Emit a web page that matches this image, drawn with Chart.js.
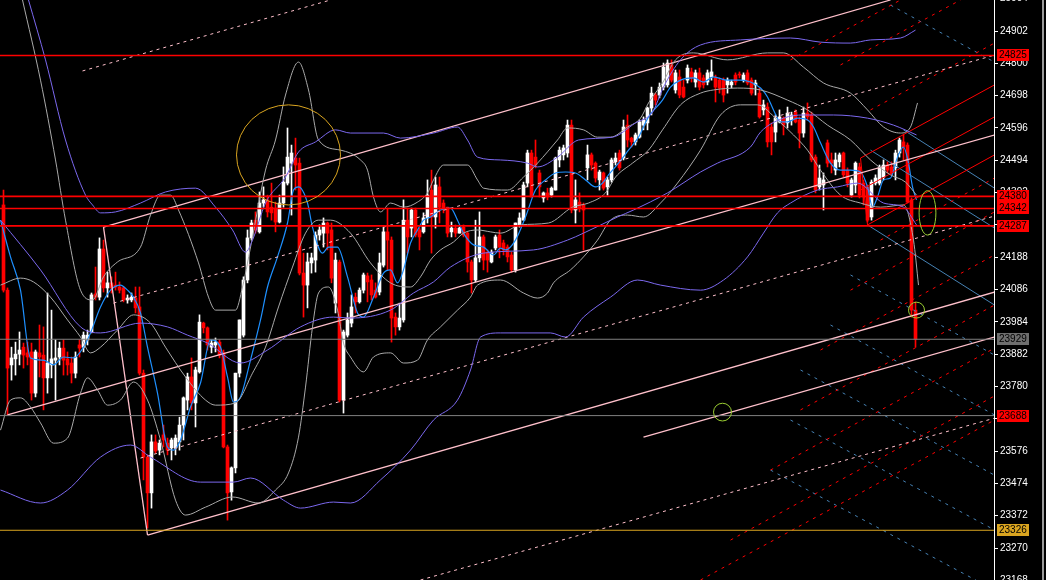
<!DOCTYPE html>
<html>
<head>
<meta charset="utf-8">
<script src="https://cdn.jsdelivr.net/npm/chart.js@4.4.1/dist/chart.umd.min.js"></script>
<style>
  html, body { margin: 0; padding: 0; background: #000; }
  #wrap { position: relative; width: 1046px; height: 580px; }
</style>
</head>
<body>
<div id="wrap"><canvas id="myChart"></canvas></div>
<script>
// candles (one per bar, left to right)
var opens = [24353,24084,23848,23867,23882,23904,23886,23889,23759,23886,
  23879,23807,23848,23863,23873,23901,23867,23854,23822,23911,
  23904,23927,23952,24072,24062,24214,24091,24107,24100,24094,
  24091,24053,24053,24059,24031,23822,23557,23444,23605,23579,
  23627,23601,23586,23586,23605,23658,23737,23810,23728,23826,
  23980,23965,23904,23911,23920,23886,23589,23447,23523,23822,
  23942,24116,24249,24305,24268,24359,24369,24346,24343,24299,
  24359,24422,24485,24501,24485,24138,24100,24170,24179,24258,
  24264,24296,24274,24043,24173,23737,23942,23980,24062,24047,
  24084,24129,24116,24084,24078,24163,24268,24242,23999,23968,
  23990,24305,24280,24337,24274,24268,24312,24400,24315,24410,
  24359,24346,24268,24280,24264,24283,24264,24173,24116,24186,
  24252,24204,24173,24217,24258,24233,24220,24195,24148,24290,
  24305,24422,24517,24504,24454,24375,24391,24384,24400,24495,
  24511,24517,24605,24337,24362,24353,24470,24511,24485,24432,
  24454,24410,24432,24489,24517,24501,24605,24564,24552,24567,
  24605,24612,24659,24700,24700,24725,24732,24795,24716,24757,
  24725,24747,24773,24741,24770,24754,24741,24757,24754,24747,
  24747,24732,24732,24763,24766,24747,24770,24747,24732,24706,
  24653,24662,24599,24583,24615,24627,24612,24621,24646,24621,
  24580,24643,24637,24504,24410,24416,24549,24495,24463,24489,
  24517,24463,24384,24416,24473,24422,24410,24315,24422,24422,
  24441,24479,24473,24470,24517,24552,24542,24369,24021];
var closes = [24084,23838,23870,23882,23895,23879,23873,23759,23889,23873,
  23807,23854,23867,23870,23901,23863,23848,23822,23873,23901,
  23942,23942,24069,24062,24214,24091,24107,24091,24094,24084,
  24053,24059,24062,24028,23822,23557,23444,23605,23576,23601,
  23611,23579,23611,23617,23658,23744,23810,23728,23832,23983,
  23965,23911,23917,23920,23879,23589,23444,23523,23822,23990,
  24116,24249,24296,24274,24359,24369,24331,24328,24299,24359,
  24425,24504,24517,24479,24138,24100,24173,24186,24258,24274,
  24296,24264,24122,24179,23737,23952,23990,24031,24047,24084,
  24132,24110,24069,24062,24170,24268,24242,23996,23968,23996,
  24305,24252,24337,24258,24252,24312,24384,24315,24416,24346,
  24343,24264,24280,24264,24280,24258,24173,24116,24186,24252,
  24179,24179,24204,24252,24220,24211,24189,24148,24296,24312,
  24416,24517,24378,24479,24410,24391,24378,24406,24501,24526,
  24533,24605,24337,24369,24343,24337,24511,24479,24438,24457,
  24406,24432,24495,24501,24470,24599,24558,24552,24574,24615,
  24621,24659,24706,24684,24725,24788,24801,24747,24770,24700,
  24694,24785,24754,24770,24725,24732,24770,24773,24725,24722,
  24700,24747,24741,24741,24763,24763,24738,24706,24738,24631,
  24669,24552,24552,24627,24631,24605,24643,24637,24615,24580,
  24643,24631,24495,24400,24438,24432,24485,24485,24495,24511,
  24448,24422,24432,24485,24384,24378,24305,24425,24438,24470,
  24479,24463,24454,24517,24558,24536,24362,24021,23929];
var highs = [24400,24091,23904,23920,23952,23917,23920,23917,23895,23974,
  23968,24075,24021,23927,23920,23927,23889,23873,23889,23927,
  23952,23958,24075,24157,24249,24242,24141,24126,24141,24110,
  24094,24069,24075,24094,24094,23832,23564,23627,23627,23611,
  23658,23617,23617,23627,23683,23747,23822,23870,23841,24006,
  23983,23968,23927,23933,23927,23895,23595,23526,23822,23990,
  24126,24274,24305,24331,24394,24410,24384,24422,24362,24384,
  24473,24596,24542,24564,24501,24201,24201,24201,24268,24290,
  24312,24299,24296,24201,24179,23958,24012,24069,24075,24091,
  24138,24138,24132,24107,24201,24283,24343,24252,24012,24043,
  24369,24343,24343,24343,24280,24328,24432,24463,24441,24441,
  24369,24346,24299,24290,24283,24290,24268,24179,24305,24331,
  24258,24211,24211,24258,24274,24242,24227,24204,24296,24328,
  24425,24526,24526,24558,24463,24394,24406,24410,24504,24536,
  24542,24621,24621,24432,24391,24359,24542,24517,24489,24463,
  24457,24441,24501,24517,24526,24621,24637,24567,24580,24621,
  24631,24662,24725,24706,24738,24801,24811,24811,24779,24779,
  24747,24795,24785,24779,24785,24763,24779,24811,24763,24754,
  24754,24754,24747,24770,24773,24770,24779,24754,24747,24722,
  24684,24675,24612,24637,24653,24631,24662,24646,24653,24631,
  24662,24675,24646,24511,24479,24454,24558,24517,24517,24517,
  24520,24470,24438,24489,24485,24432,24416,24432,24448,24479,
  24495,24489,24489,24526,24564,24574,24549,24375,24047];
var lows = [24078,23690,23800,23816,23848,23838,23848,23737,23747,23810,
  23706,23759,23807,23737,23848,23816,23816,23791,23807,23873,
  23889,23911,23949,24053,24053,24078,24062,24075,24084,24075,
  24047,24043,24047,24012,23816,23485,23333,23396,23570,23564,
  23589,23564,23548,23564,23579,23611,23706,23706,23652,23822,
  23949,23895,23886,23889,23870,23586,23358,23421,23507,23810,
  23936,24107,24242,24264,24264,24346,24315,24305,24268,24296,
  24346,24416,24321,24400,24132,23999,24028,24138,24141,24242,
  24220,24211,24107,24012,23731,23696,23936,23968,24012,24043,
  24075,24047,24053,24059,24069,24157,24148,23920,23942,23958,
  23983,24201,24252,24252,24211,24264,24296,24201,24280,24296,
  24328,24252,24252,24252,24264,24252,24141,24075,24110,24173,
  24148,24141,24170,24211,24186,24195,24173,24141,24141,24283,
  24305,24410,24378,24470,24378,24362,24369,24378,24400,24473,
  24495,24504,24328,24296,24331,24211,24432,24463,24425,24400,
  24400,24384,24425,24479,24463,24495,24536,24536,24542,24564,
  24590,24590,24637,24669,24691,24716,24725,24741,24706,24691,
  24691,24738,24741,24725,24716,24722,24732,24747,24678,24706,
  24678,24706,24722,24732,24754,24741,24732,24700,24700,24627,
  24637,24536,24511,24552,24612,24574,24596,24605,24612,24533,
  24567,24621,24489,24391,24400,24337,24473,24454,24448,24473,
  24441,24410,24378,24391,24375,24353,24299,24305,24416,24416,
  24432,24454,24448,24432,24504,24495,24359,23999,23904];

// price axis ticks
var yTicks = [23168,23270,23372,23474,23576,23678,23780,23882,23984,24086,
  24188,24290,24392,24494,24596,24698,24800,24902,25004];

// horizontal levels and their price tags
var hLevels = [24825, 24380, 24342, 24287, 23929, 23688, 23326];

// indicator lines [bar, price]
var maBlue = [[-0.75,24305],[1.75,24189],[4.25,24084],[6.75,23870],[10,23863],[12.5,23848],[15,23873],[17.5,23870],[20,23904],[21.75,23949],[24.25,24031],[26.75,24084],[29.25,24100],[31,24084],[32.5,24062],[34.25,24012],[36,23904],[38.5,23759],[41,23589],[42.5,23579],[44.25,23611],[46.75,23715],[49.25,23791],[51.75,23927],[54.25,23904],[56,23810],[57.5,23731],[59.25,23747],[61.75,23863],[64.25,23990],[66,24094],[68.5,24189],[71,24296],[72.5,24400],[73.75,24410],[76,24359],[77.25,24283],[79.75,24201],[81.25,24220],[83.5,24220],[86,24126],[88.5,24012],[90,23999],[92.5,24062],[95,24138],[96.75,24148],[98.5,24107],[100,24148],[101.75,24233],[103.5,24274],[105,24305],[106.75,24315],[109.25,24337],[111.75,24343],[113.5,24305],[115,24264],[117.5,24227],[120,24220],[122.5,24195],[124.25,24217],[125.5,24211],[128,24242],[130.5,24315],[133,24400],[135.5,24432],[138,24454],[140.5,24457],[143,24454],[145.5,24432],[148,24410],[149.75,24422],[151.25,24448],[153.75,24485],[156.25,24526],[158.75,24567],[161.25,24631],[164.75,24684],[166.75,24725],[169.25,24747],[172.5,24754],[175,24741],[177.5,24757],[181,24747],[184.25,24747],[186.75,24741],[189.25,24722],[191,24694],[192.5,24653],[194.25,24615],[196,24615],[198.5,24627],[201,24621],[202.5,24599],[204.25,24549],[206.75,24485],[209.25,24463],[211.75,24463],[214.25,24457],[216,24410],[217.25,24346],[218.5,24378],[220,24432],[221.75,24438],[223.5,24504],[225,24536],[226.25,24485],[227.25,24410],[228.25,24369]];

var bandUpper = [[6.25,25000],[10.5,24811],[15.5,24558],[20.5,24384],[22.25,24353],[24.25,24328],[28,24331],[34.25,24359],[40.5,24394],[48,24406],[53,24346],[57.25,24274],[60.5,24204],[62.25,24242],[65.5,24359],[70.5,24441],[73.75,24520],[78,24552],[83,24590],[86.75,24580],[95,24580],[99.25,24564],[107.5,24580],[113.5,24599],[116,24558],[118.5,24504],[124.25,24495],[131,24485],[133.5,24473],[138.5,24504],[143.75,24558],[152.25,24567],[158,24612],[162.25,24646],[165,24725],[169.25,24811],[174.25,24858],[184.25,24874],[196.75,24880],[204.25,24867],[211.75,24864],[216.75,24874],[224.25,24880],[228,24905]];
var bandMid = [[-0.75,24305],[9.25,24148],[19.25,23968],[24.25,23949],[34.25,23980],[41,23968],[46,23942],[51,23917],[59.25,23854],[66,23895],[74.25,23968],[82.5,23999],[86.75,23996],[96.75,24021],[102.5,24075],[107.5,24110],[111.75,24157],[120,24201],[132.5,24211],[141,24242],[145,24264],[153.5,24315],[157.5,24337],[166,24391],[174.25,24457],[178.5,24485],[186.75,24536],[189.25,24583],[195,24627],[200,24637],[207.5,24637],[216,24627],[222.5,24605],[228.25,24574]];
var bandLower = [[-0.75,23453],[9.25,23412],[16,23453],[24.25,23557],[31.75,23595],[36.75,23557],[49.25,23478],[57.5,23478],[61.75,23491],[70,23421],[74.25,23396],[82.5,23415],[86.75,23412],[94.25,23485],[101.75,23579],[107.5,23674],[113.5,23737],[116.75,23832],[119.25,23936],[124.25,23949],[136.75,23949],[140.5,23936],[145,23999],[151.75,24062],[158.5,24116],[164.25,24100],[174.25,24084],[180,24116],[186,24189],[190,24264],[193.5,24328],[196.75,24359],[203.5,24400],[208.5,24410],[213.5,24422],[220,24359],[225,24346],[228.25,24290]];

var bbUpper = [[4.75,25000],[9.25,24747],[13,24495],[15.5,24305],[19.25,24084],[22.25,24053],[25,24126],[28.5,24173],[34.25,24220],[36.75,24321],[39.25,24384],[41.75,24384],[43.75,24337],[48.75,24170],[51.25,24062],[53,24021],[58,24021],[59.75,24094],[62.25,24252],[65.5,24463],[68,24558],[70.5,24700],[73.75,24804],[76.25,24716],[78.75,24558],[84.25,24526],[89.25,24495],[91,24463],[92.5,24378],[94.25,24331],[96.75,24359],[100,24346],[103.5,24362],[106,24391],[107.5,24432],[110,24479],[116,24479],[118.5,24432],[120,24406],[126,24400],[130,24441],[133.5,24485],[138.5,24558],[141,24596],[145,24590],[148.5,24567],[151.75,24567],[156,24599],[159.25,24627],[161.25,24675],[164.75,24738],[168,24811],[172.5,24833],[181,24811],[191,24833],[195,24833],[200,24788],[205,24738],[211.75,24706],[216,24653],[220,24599],[224.25,24580],[226.75,24599],[228.5,24675]];
var bbMid = [[-0.75,24100],[4.25,24122],[7.5,24110],[11.75,24062],[16,23990],[19.25,23936],[21.75,23886],[24.25,23904],[28.5,23958],[32.5,24006],[36.75,23980],[40.5,23904],[45.5,23810],[50.5,23737],[53,23721],[58,23728],[62.25,23822],[65.5,23904],[68.75,24031],[72.25,24157],[75.5,24264],[78.75,24305],[81.75,24305],[86.75,24264],[91.75,24170],[96.75,24107],[101.75,24094],[104.25,24126],[106.75,24179],[109.25,24211],[112.5,24236],[115,24264],[118.5,24274],[121.75,24268],[124.25,24264],[129.25,24290],[136.25,24296],[142.25,24346],[146.25,24359],[150.5,24391],[153,24441],[157.25,24485],[161.25,24526],[164.75,24590],[169.25,24669],[174.25,24706],[177.5,24716],[183.5,24722],[189.25,24716],[196,24684],[201,24653],[206,24605],[211.75,24558],[216.75,24495],[221.75,24448],[225.5,24425],[228.25,24384]];
var bbLower = [[-0.75,23642],[1.75,23737],[4.25,23744],[6.75,23715],[9.25,23665],[12.5,23601],[16,23617],[19.25,23759],[21,23807],[23.5,23769],[26,23721],[29.25,23737],[32.5,23794],[36,23737],[39.25,23611],[43,23421],[45.5,23374],[50.5,23399],[57.25,23431],[63.75,23412],[68,23453],[71.25,23507],[73.75,23620],[75.5,23778],[77.25,23968],[78.75,24075],[81.25,24094],[83.5,24021],[85,23917],[86.75,23873],[90,23826],[92.5,23873],[96.75,23886],[100,23854],[103.5,23863],[106,23927],[109.25,23968],[113.5,24021],[116.75,24062],[118.5,24100],[124.25,24116],[130,24075],[133.5,24059],[136,24075],[137.5,24107],[141.75,24148],[145,24189],[148.5,24242],[151.75,24305],[156,24321],[160,24315],[164.25,24359],[168.5,24422],[174.25,24526],[179.25,24637],[184.25,24669],[188.5,24669],[193.5,24621],[197.5,24574],[201,24526],[204.25,24463],[209.25,24384],[214.25,24359],[219.25,24346],[225,24353],[227.5,24242],[228.75,24100]];

// drawn trend lines [[bar, price], [bar, price]]
var pinkSolid = [
  [[25,24283],[221.75,25000]],
  [[1,23690],[247.75,24574]],
  [[36,23311],[247.75,24078]],
  [[25,24283],[36,23311]],
  [[160,23620],[247.75,23936]]
];
var pinkDashed = [
  [[19.75,24776],[81.75,25000]],
  [[27.5,24043],[247.75,24826]],
  [[34.25,23554],[247.75,24318]],
  [[104.25,23169],[247.75,23680]]
];
var redSolid = [
  [[214.25,24501],[247.75,24732]],
  [[216,24290],[247.75,24511]],
  [[214.25,24501],[216,24290]],
  [[214.25,24400],[247.75,24631]]
];
var redDashed = [
  [[196.75,24811],[224.25,25000]],
  [[209.25,24795],[239.25,25000]],
  [[216.75,24653],[247.75,24864]],
  [[219.25,24242],[247.75,24438]],
  [[211.75,24084],[247.75,24331]],
  [[204.25,23895],[247.75,24195]],
  [[199.25,23706],[247.75,24037]],
  [[191.75,23516],[247.75,23901]],
  [[181.75,23295],[247.75,23750]],
  [[174.25,23169],[247.75,23674]]
];
var steelSolid = [
  [[216,24290],[247.75,24037]],
  [[225,24590],[247.75,24406]],
  [[216.75,24526],[247.75,24280]]
];
var steelDashed = [
  [[221.75,24984],[247.75,24804]],
  [[211.75,24132],[247.75,23879]],
  [[206.75,23974],[247.75,23690]],
  [[199.25,23832],[247.75,23500]],
  [[196.75,23674],[247.75,23327]],
  [[191.75,23516],[247.75,23137]]
];

// marked zones: centre bar, centre price, half width (bars), half height (price)
var circles = [
  [71.25, 24511, 13, 158],
  [231, 24328, 2.1, 70],
  [228.25, 24021, 2, 25],
  [179.75, 23699, 2.25, 28]
];

var hColors = ["#ff0000","#ff0000","#ff0000","#ff0000","#808080","#808080","#daa520"];
var hWidths = [1.6, 1.6, 1.6, 1.6, 1, 1, 1];
var tagColors = ["#ff0000","#ff0000","#ff0000","#ff0000","#6e6e6e","#ff0000","#daa520"];
var circleColors = ["#daa520","#9acd32","#9acd32","#9acd32"];

function pts(a) {
  return a.map(function (p) { return { x: p[0], y: p[1] }; });
}
function lineSet(a, color, width, dash, smooth) {
  return {
    type: "line",
    data: pts(a),
    borderColor: color,
    borderWidth: width,
    borderDash: dash || [],
    pointRadius: 0,
    fill: false,
    cubicInterpolationMode: smooth ? "monotone" : "default",
    tension: 0,
    order: 1
  };
}

var candleColors = closes.map(function (c, i) { return c >= opens[i] ? "#ffffff" : "#ff0000"; });

var datasets = [
  {
    type: "bar",
    data: lows.map(function (l, i) { return { x: i, y: [l, highs[i]] }; }),
    backgroundColor: candleColors,
    barThickness: 1,
    grouped: false,
    order: 20
  },
  {
    type: "bar",
    data: opens.map(function (o, i) { return { x: i, y: [o, closes[i]] }; }),
    backgroundColor: candleColors,
    barThickness: 3,
    minBarLength: 1,
    grouped: false,
    order: 19
  }
];

hLevels.forEach(function (v, k) {
  datasets.push(lineSet([[-2, v], [250, v]], hColors[k], hWidths[k]));
});
datasets.push(lineSet(bandUpper, "#7b68ee", 1, null, true));
datasets.push(lineSet(bandMid, "#7b68ee", 1, null, true));
datasets.push(lineSet(bandLower, "#7b68ee", 1, null, true));
datasets.push(lineSet(bbUpper, "#a9a9a9", 1, null, true));
datasets.push(lineSet(bbMid, "#a9a9a9", 1, null, true));
datasets.push(lineSet(bbLower, "#a9a9a9", 1, null, true));
pinkSolid.forEach(function (l) { datasets.push(lineSet(l, "#ffc0cb", 1.3)); });
pinkDashed.forEach(function (l) { datasets.push(lineSet(l, "#ffc0cb", 1, [3, 4])); });
redSolid.forEach(function (l) { datasets.push(lineSet(l, "#ff0000", 1)); });
redDashed.forEach(function (l) { datasets.push(lineSet(l, "#ff0000", 1, [3, 5])); });
steelSolid.forEach(function (l) { datasets.push(lineSet(l, "#4682b4", 1)); });
steelDashed.forEach(function (l) { datasets.push(lineSet(l, "#4682b4", 1, [3, 5])); });
datasets.push(lineSet(maBlue, "#1e90ff", 1.2, null, true));

var extras = {
  id: "extras",
  afterDatasetsDraw: function (chart) {
    var ctx = chart.ctx, xs = chart.scales.x, ys = chart.scales.y, a = chart.chartArea;
    ctx.save();
    ctx.beginPath();
    ctx.rect(a.left, a.top, a.right - a.left, a.bottom - a.top);
    ctx.clip();
    circles.forEach(function (c, k) {
      var cx = xs.getPixelForValue(c[0]);
      var cy = ys.getPixelForValue(c[1]);
      var rx = Math.abs(xs.getPixelForValue(c[0] + c[2]) - cx);
      var ry = Math.abs(ys.getPixelForValue(c[1] + c[3]) - cy);
      ctx.beginPath();
      ctx.ellipse(cx, cy, rx, ry, 0, 0, Math.PI * 2);
      ctx.strokeStyle = circleColors[k];
      ctx.lineWidth = 1;
      ctx.stroke();
    });
    ctx.restore();
  },
  afterDraw: function (chart) {
    var ctx = chart.ctx, ys = chart.scales.y, a = chart.chartArea;
    ctx.save();
    ctx.font = '10px "Liberation Sans"';
    ctx.textBaseline = "middle";
    ctx.textAlign = "left";
    hLevels.forEach(function (v, k) {
      var py = Math.round(ys.getPixelForValue(v));
      ctx.fillStyle = tagColors[k];
      ctx.fillRect(a.right + 3, py - 6, 32, 12);
      ctx.fillStyle = "#000";
      ctx.fillText(String(v), a.right + 5, py + 0.5);
    });
    ctx.fillStyle = "#9a9a9a";
    ctx.fillRect(1042, 0, 2, chart.height);
    ctx.restore();
  }
};

new Chart("myChart", {
  type: "bar",
  data: { datasets: datasets },
  options: {
    responsive: true,
    maintainAspectRatio: false,
    animation: false,
    events: [],
    layout: { padding: 0 },
    plugins: { legend: false, tooltip: { enabled: false } },
    scales: {
      x: {
        type: "linear",
        min: -0.875,
        max: 247.625,
        display: false,
        offset: false
      },
      y: {
        position: "right",
        min: 23169,
        max: 25000,
        afterBuildTicks: function (s) {
          s.ticks = yTicks.map(function (v) { return { value: v }; });
        },
        afterFit: function (s) {
          s.width = 52;
          s.paddingTop = 0;
          s.paddingBottom = 0;
        },
        ticks: {
          color: "#ffffff",
          autoSkip: false,
          padding: 2,
          font: { family: "Liberation Sans", size: 10 },
          callback: function (v) { return String(v); }
        },
        grid: { drawOnChartArea: false, color: "#ffffff", tickLength: 4 },
        border: { color: "#ffffff" }
      }
    }
  },
  plugins: [extras]
});
</script>
</body>
</html>
